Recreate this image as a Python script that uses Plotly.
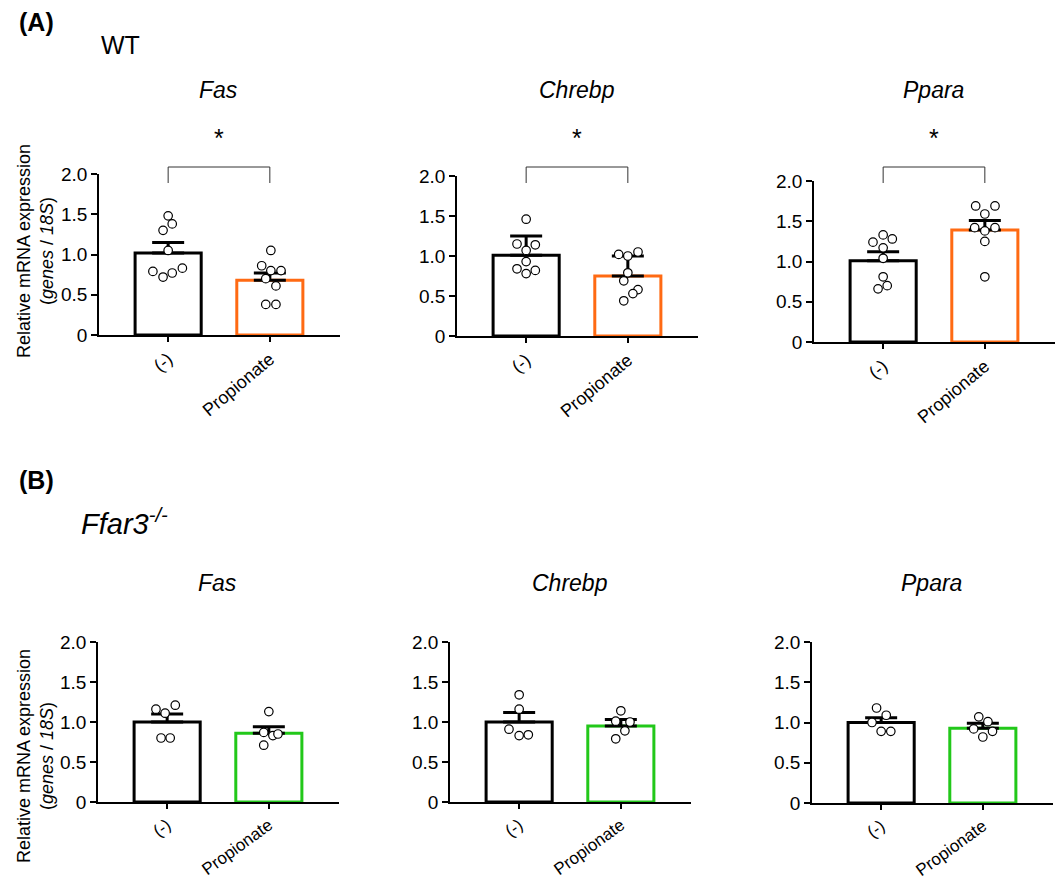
import plotly.graph_objects as go

groups = ["(-)", "Propionate"]
genes = ["Fas", "Chrebp", "Ppara"]

# ---- (A) WT ----
wt_fas_mean = [1.02, 0.68]
wt_fas_top = [1.15, 0.77]
wt_fas_ctrl = [1.48, 1.30, 1.38, 1.05, 0.79, 0.72, 0.77, 0.83]
wt_fas_prop = [1.05, 0.86, 0.80, 0.80, 0.70, 0.61, 0.38, 0.38]
wt_fas_ctrl_jit = [0.0, -0.05, 0.04, 0.0, -0.15, -0.05, 0.04, 0.14]
wt_fas_prop_jit = [0.01, -0.08, 0.01, 0.11, -0.04, 0.06, -0.04, 0.06]

wt_chrebp_mean = [1.01, 0.75]
wt_chrebp_top = [1.25, 1.00]
wt_chrebp_ctrl = [1.46, 1.15, 1.14, 1.07, 0.93, 0.84, 0.78, 0.82]
wt_chrebp_prop = [1.02, 1.00, 1.05, 0.79, 0.69, 0.58, 0.53, 0.44]
wt_chrebp_ctrl_jit = [0.0, -0.09, 0.09, 0.0, 0.0, -0.09, 0.0, 0.09]
wt_chrebp_prop_jit = [-0.09, 0.0, 0.10, 0.0, -0.04, 0.10, 0.05, -0.04]

wt_ppara_mean = [1.01, 1.39]
wt_ppara_top = [1.12, 1.51]
wt_ppara_ctrl = [1.33, 1.24, 1.28, 1.17, 1.04, 0.81, 0.66, 0.70]
wt_ppara_prop = [1.69, 1.69, 1.59, 1.42, 1.42, 1.38, 1.25, 0.81]
wt_ppara_ctrl_jit = [0.0, -0.10, 0.09, 0.0, 0.0, 0.0, -0.05, 0.04]
wt_ppara_prop_jit = [-0.09, 0.10, 0.0, -0.10, 0.10, 0.0, 0.0, 0.0]

# ---- (B) Ffar3-/- ----
ko_fas_mean = [1.00, 0.86]
ko_fas_top = [1.10, 0.94]
ko_fas_ctrl = [1.16, 1.11, 1.21, 0.80, 0.80]
ko_fas_prop = [1.13, 0.87, 0.83, 0.85, 0.71]
ko_fas_ctrl_jit = [-0.11, -0.02, 0.08, -0.06, 0.03]
ko_fas_prop_jit = [0.0, -0.05, 0.04, 0.09, -0.05]

ko_chrebp_mean = [1.00, 0.95]
ko_chrebp_top = [1.12, 1.03]
ko_chrebp_ctrl = [1.34, 1.16, 0.91, 0.83, 0.84]
ko_chrebp_prop = [1.14, 1.01, 1.00, 0.89, 0.79]
ko_chrebp_ctrl_jit = [0.0, 0.0, -0.10, 0.0, 0.09]
ko_chrebp_prop_jit = [0.0, -0.05, 0.09, 0.04, -0.05]

ko_ppara_mean = [1.00, 0.93]
ko_ppara_top = [1.06, 0.99]
ko_ppara_ctrl = [1.18, 1.09, 1.00, 0.89, 0.89]
ko_ppara_prop = [1.07, 1.01, 0.92, 0.89, 0.82]
ko_ppara_ctrl_jit = [-0.045, 0.05, -0.09, 0.0, 0.095]
ko_ppara_prop_jit = [-0.04, 0.05, -0.09, 0.095, 0.0]

ytickvals = [0, 0.5, 1.0, 1.5, 2.0]
yticktext = ["0", "0.5", "1.0", "1.5", "2.0"]

ORANGE = "#FF6A13"
GREEN = "#22C81A"
FONT = "Arial, 'Liberation Sans', sans-serif"

W, H = 1064, 879

panels = [
    (wt_fas_mean, wt_fas_top, wt_fas_ctrl, wt_fas_prop, wt_fas_ctrl_jit, wt_fas_prop_jit, ORANGE, genes[0], (99, 340, 174, 335), True),
    (wt_chrebp_mean, wt_chrebp_top, wt_chrebp_ctrl, wt_chrebp_prop, wt_chrebp_ctrl_jit, wt_chrebp_prop_jit, ORANGE, genes[1], (457, 698, 176, 336), True),
    (wt_ppara_mean, wt_ppara_top, wt_ppara_ctrl, wt_ppara_prop, wt_ppara_ctrl_jit, wt_ppara_prop_jit, ORANGE, genes[2], (814, 1055, 181, 342), True),
    (ko_fas_mean, ko_fas_top, ko_fas_ctrl, ko_fas_prop, ko_fas_ctrl_jit, ko_fas_prop_jit, GREEN, genes[0], (98, 339, 642, 802), False),
    (ko_chrebp_mean, ko_chrebp_top, ko_chrebp_ctrl, ko_chrebp_prop, ko_chrebp_ctrl_jit, ko_chrebp_prop_jit, GREEN, genes[1], (450, 691, 642, 802), False),
    (ko_ppara_mean, ko_ppara_top, ko_ppara_ctrl, ko_ppara_prop, ko_ppara_ctrl_jit, ko_ppara_prop_jit, GREEN, genes[2], (812, 1053, 642, 803), False),
]

fig = go.Figure()
layout = dict(
    width=W, height=H, margin=dict(l=0, r=0, t=0, b=0, autoexpand=False),
    paper_bgcolor="white", plot_bgcolor="white", showlegend=False,
    font=dict(family=FONT, color="black"),
)
shapes = []
annotations = []

def px_x(p):
    return p / W

def px_y(p):
    return 1 - p / H

for i, (mean, top, ctrl, prop, cj, pj, color, gene, box, sig) in enumerate(panels):
    n = i + 1
    xa = "x" if n == 1 else f"x{n}"
    ya = "y" if n == 1 else f"y{n}"
    x0, x1, yt, yb = box
    sem = [t - m for t, m in zip(top, mean)]
    fig.add_trace(go.Bar(
        x=[0, 1], y=mean, width=0.65, xaxis=xa, yaxis=ya,
        marker=dict(color="white", line=dict(color=["black", color], width=3)),
        error_y=dict(type="data", symmetric=False, array=sem, arrayminus=[0, 0],
                     color="black", thickness=3, width=16),
        hoverinfo="skip",
    ))
    for k, (vals, jit) in enumerate([(ctrl, cj), (prop, pj)]):
        fig.add_trace(go.Scatter(
            x=[k + j for j in jit], y=vals, mode="markers", xaxis=xa, yaxis=ya,
            marker=dict(symbol="circle", size=8.5, color="white",
                        line=dict(color="black", width=1.2)),
            cliponaxis=False, hoverinfo="skip",
        ))
    xkey = "xaxis" if n == 1 else f"xaxis{n}"
    ykey = "yaxis" if n == 1 else f"yaxis{n}"
    top_row = i < 3
    layout[xkey] = dict(
        domain=[px_x(x0), px_x(x1)], anchor=ya, range=[-0.68, 1.69],
        tickvals=[0, 1], ticktext=groups, tickangle=-40 if top_row else -36,
        automargin=False, ticklabeloverflow="allow",
        showline=True, linecolor="black", linewidth=1.5,
        ticks="outside", ticklen=5, tickwidth=1.5, tickcolor="black",
        showgrid=False, zeroline=False,
        tickfont=dict(family=FONT, size=18 if top_row else 17, color="black"),
    )
    layout[ykey] = dict(
        domain=[px_y(yb), px_y(yt)], anchor=xa, range=[0, 2.0],
        tickvals=ytickvals, ticktext=yticktext, automargin=False,
        ticklabeloverflow="allow",
        showline=True, linecolor="black", linewidth=1.5,
        ticks="outside", ticklen=6, tickwidth=1.5, tickcolor="black",
        showgrid=False, zeroline=False,
        tickfont=dict(family=FONT, size=19, color="black"),
    )
    title_y = 90 if top_row else 583
    annotations.append(dict(
        text=f"<i>{gene}</i>", xref=xa, x=0.5, yref="paper", y=px_y(title_y),
        showarrow=False, xanchor="center", yanchor="middle",
        font=dict(family=FONT, size=23, color="black"),
    ))
    if sig:
        shapes.append(dict(
            type="path", xref=xa, yref="paper",
            path=f"M 0,{px_y(183)} L 0,{px_y(167)} L 1,{px_y(167)} L 1,{px_y(183)}",
            line=dict(color="#333333", width=1),
        ))
        annotations.append(dict(
            text="*", xref=xa, x=0.5, yref="paper", y=px_y(138),
            showarrow=False, xanchor="center", yanchor="middle",
            font=dict(family=FONT, size=25, color="black"),
        ))

# y-axis titles (two rows)
for yc in (251, 756):
    annotations.append(dict(
        text="Relative mRNA expression<br>(<i>genes</i> / <i>18S</i>)",
        xref="paper", x=px_x(35), yref="paper", y=px_y(yc),
        textangle=-90, showarrow=False, xanchor="center", yanchor="middle",
        font=dict(family=FONT, size=18, color="black"),
    ))

annotations += [
    dict(text="<b>(A)</b>", xref="paper", yref="paper", x=px_x(17), y=px_y(22),
         xanchor="left", yanchor="middle", showarrow=False,
         font=dict(family=FONT, size=25, color="black")),
    dict(text="WT", xref="paper", yref="paper", x=px_x(99), y=px_y(45),
         xanchor="left", yanchor="middle", showarrow=False,
         font=dict(family=FONT, size=25, color="black")),
    dict(text="<b>(B)</b>", xref="paper", yref="paper", x=px_x(17), y=px_y(480),
         xanchor="left", yanchor="middle", showarrow=False,
         font=dict(family=FONT, size=25, color="black")),
    dict(text="<i>Ffar3<sup>-/-</sup></i>", xref="paper", yref="paper", x=px_x(79), y=px_y(522),
         xanchor="left", yanchor="middle", showarrow=False,
         font=dict(family=FONT, size=29, color="black")),
]

layout["shapes"] = shapes
layout["annotations"] = annotations
fig.update_layout(**layout)
fig.write_html("out.html", config={"displayModeBar": False},
               post_script="document.body.style.margin='0px';")
